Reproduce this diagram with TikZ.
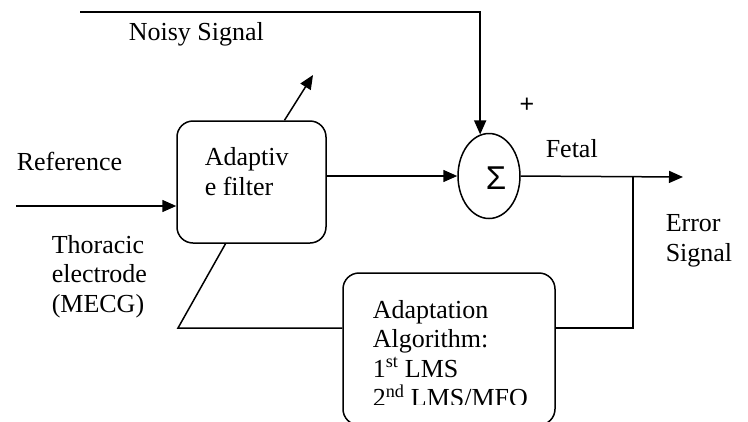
\documentclass[tikz,border=0pt]{standalone}
\usepackage{fontspec}
\setmainfont{Liberation Serif}
\newfontfamily\sumfont{Liberation Sans}
\usetikzlibrary{arrows.meta,shapes.geometric}
\begin{document}
\begin{tikzpicture}[x=1pt, y=-1pt, >={Triangle[length=14pt,width=12pt]}, line width=1.5pt,
  block/.style={draw, rectangle, rounded corners=16pt},
  lbl/.style={anchor=base west, inner sep=0pt, align=left, font=\fontsize{26}{29.5}\selectfont}]
\useasboundingbox (0,0) rectangle (748,421);
\node[block, minimum width=149pt, minimum height=122pt] (filt) at (251.5,182) {};
\node[draw, ellipse, minimum width=62pt, minimum height=85pt] (sum) at (489,176) {};
\node[block, minimum width=212pt, minimum height=152pt] (algo) at (449,349) {};
\node[inner sep=0pt, font=\sumfont\fontsize{33}{33}\selectfont] (sigma) at (496,178) {Σ};
\node[inner sep=0pt, font=\sumfont\fontsize{25}{25}\selectfont] (plus) at (527,105) {+};
\node[lbl] (noisy) at (128,40) {Noisy Signal};
\node[lbl] (reftxt) at (16,170) {Reference};
\node[lbl] (filttxt) at (204,195) {Adaptiv\\e filter};
\node[lbl] (thor) at (51,312) {Thoracic\\electrode\\(MECG)};
\node[lbl] (fetal) at (545,157) {Fetal};
\node[lbl] (err) at (665,261) {Error\\Signal};
\begin{scope}
\clip (340,260) rectangle (560,404);
\node[lbl] (algotxt) at (372,406.5) {Adaptation\\Algorithm:\\1\textsuperscript{st} LMS\\2\textsuperscript{nd} LMS/MFO};
\end{scope}
\coordinate (ns) at (80,12);
\coordinate (ref) at (16,206);
\coordinate (tune) at (313,75);
\coordinate (junc) at (633,177);
\coordinate (out) at (683,177);
\coordinate (fb) at (633,328);
\coordinate (elbow) at (178,328);
\draw[->] (ns) -| (sum.102);
\draw[->] (ref) -- (ref -| filt.west);
\draw[->] (filt.east |- sum.west) -- (sum.west);
\draw[->] ([xshift=33pt]filt.north) -- (tune);
\draw[->] (sum.east) -- (out);
\draw (junc) -- (fb) -- (fb -| algo.east);
\draw (algo.west |- fb) -- (elbow) -- ([xshift=-26pt]filt.south);
\end{tikzpicture}
\end{document}
